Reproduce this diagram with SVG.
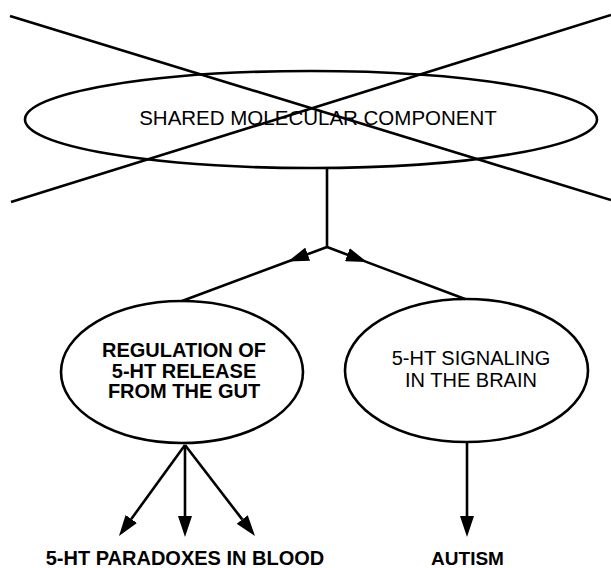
<svg xmlns="http://www.w3.org/2000/svg" width="611" height="568" viewBox="0 0 611 568">
<style>
.shape{fill:none;stroke:#000;stroke-width:2.6}
.ln{fill:none;stroke:#000;stroke-width:2.6}
.t{font-family:"Liberation Sans",Arial,Helvetica,sans-serif;font-size:20px;fill:#000;text-anchor:middle}
.b{font-weight:bold}
</style>
<defs>
<marker id="ah" markerUnits="userSpaceOnUse" markerWidth="22" markerHeight="14" refX="0" refY="7" orient="auto" viewBox="0 0 22 14">
<path d="M0,0 L21,7 L0,14 z" fill="#000"/>
</marker>
<marker id="am" markerUnits="userSpaceOnUse" markerWidth="22" markerHeight="14" refX="21" refY="7" orient="auto" viewBox="0 0 22 14">
<path d="M0,0 L21,7 L0,14 z" fill="#000"/>
</marker>
</defs>
<g id="shared">
<ellipse class="shape" cx="311" cy="119.5" rx="286" ry="48.5"/>
<text class="t" x="318" y="125" font-size="20.5" style="font-size:20.5px">SHARED MOLECULAR COMPONENT</text>
<line class="ln" x1="10" y1="16" x2="611" y2="200"/>
<line class="ln" x1="11" y1="202" x2="611" y2="15"/>
</g>
<g id="gut">
<ellipse class="shape" cx="182" cy="372" rx="121" ry="71"/>
<text class="t b" x="184" y="357">REGULATION OF</text>
<text class="t b" x="184" y="378">5-HT RELEASE</text>
<text class="t b" x="184" y="398">FROM THE GUT</text>
</g>
<g id="brain">
<ellipse class="shape" cx="466.5" cy="370.5" rx="121.5" ry="71.5"/>
<text class="t" x="471" y="365">5-HT SIGNALING</text>
<text class="t" x="471" y="387">IN THE BRAIN</text>
</g>
<g id="blood">
<text class="t b" x="185" y="565">5-HT PARADOXES IN BLOOD</text>
</g>
<g id="autism">
<text class="t b" x="467.5" y="565" style="font-size:19px">AUTISM</text>
</g>
<g id="connectors">
<line class="ln" x1="327" y1="168" x2="327" y2="248"/>
<path class="ln" d="M327,247 L288,261.5 L182,301" marker-mid="url(#am)"/>
<path class="ln" d="M327,247 L367,262.1 L465,299" marker-mid="url(#am)"/>
<path class="ln" d="M185,445 L131.3,519" marker-end="url(#ah)"/>
<path class="ln" d="M185,445 L185,516" marker-end="url(#ah)"/>
<path class="ln" d="M185,445 L242.2,519.4" marker-end="url(#ah)"/>
<path class="ln" d="M467,442 L467,516" marker-end="url(#ah)"/>
</g>
</svg>
